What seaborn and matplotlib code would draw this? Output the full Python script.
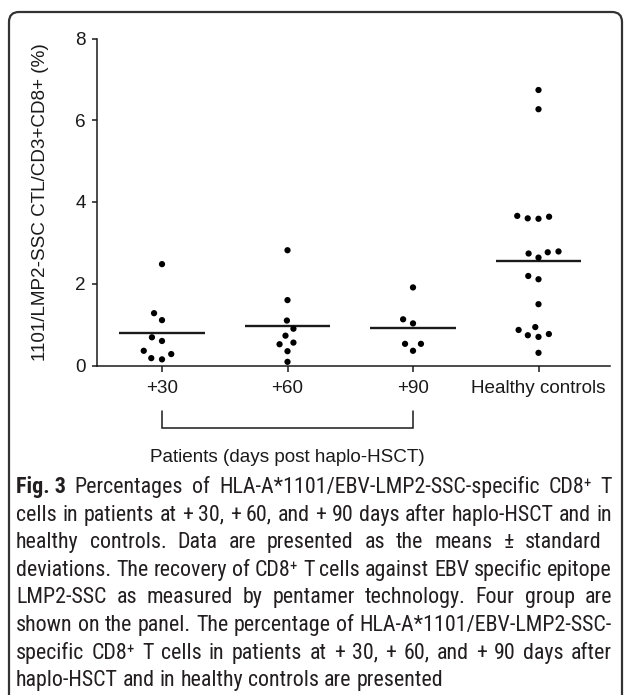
import numpy as np
import pandas as pd
import matplotlib
matplotlib.use("Agg")
import matplotlib.pyplot as plt
import seaborn as sns
from matplotlib import font_manager
from matplotlib.patches import FancyBboxPatch
from matplotlib.transforms import blended_transform_factory

# ---------------- data ----------------
groups = ["+30", "+60", "+90", "Healthy controls"]
day30 = [2.48, 1.28, 1.11, 0.69, 0.60, 0.36, 0.28, 0.15, 0.18]
day60 = [2.82, 1.60, 1.10, 0.90, 0.73, 0.56, 0.52, 0.35, 0.09]
day90 = [1.91, 1.13, 1.03, 0.53, 0.53, 0.36]
healthy = [6.74, 6.27, 3.64, 3.59, 3.60, 3.66, 2.79, 2.74, 2.64, 2.77,
           2.11, 2.19, 1.50, 0.87, 0.94, 0.74, 0.70, 0.77, 0.31]
yticks = [0, 2, 4, 6, 8]
ylabel = "1101/LMP2-SSC CTL/CD3+CD8+ (%)"
bracket_label = "Patients (days post haplo-HSCT)"
fig_tag = "Fig. 3"
caption_lines = [
    "Percentages of HLA-A*1101/EBV-LMP2-SSC-specific CD8\u207a T",
    "cells in patients at + 30, + 60, and + 90 days after haplo-HSCT and in",
    "healthy controls. Data are presented as the means \u00b1 standard",
    "deviations. The recovery of CD8\u207a T cells against EBV specific epitope",
    "LMP2-SSC as measured by pentamer technology. Four group are",
    "shown on the panel. The percentage of HLA-A*1101/EBV-LMP2-SSC-",
    "specific CD8\u207a T cells in patients at + 30, + 60, and + 90 days after",
    "haplo-HSCT and in healthy controls are presented",
]

df = pd.DataFrame({
    "group": [groups[0]] * len(day30) + [groups[1]] * len(day60)
             + [groups[2]] * len(day90) + [groups[3]] * len(healthy),
    "value": day30 + day60 + day90 + healthy,
})

# ---------------- layout (pixels) ----------------
W, H = 627, 695
AX_L, AX_R = 97, 610
AX_TOP, AX_BOT = 38.5, 365.5
CAT0_PX, CAT_STEP = 162, 125.5
INK = "#1a1a1a"
FS = 13.6

sns.set_theme(style="ticks")
plt.rcParams["font.family"] = ["Liberation Sans", "DejaVu Sans"]
plt.rcParams["text.color"] = INK

fig = plt.figure(figsize=(W / 100, H / 100), dpi=100)
fig.patch.set_facecolor("white")
ax = fig.add_axes([AX_L / W, 1 - AX_BOT / H, (AX_R - AX_L) / W, (AX_BOT - AX_TOP) / H])
ax.set_facecolor("white")

sns.swarmplot(data=df, x="group", y="value", order=groups, color="black",
              size=4.5, linewidth=2.9, edgecolor="none", ax=ax)
for c in ax.collections:
    c.set_clip_on(False)

means = df.groupby("group")["value"].mean().reindex(groups).values
xs = np.arange(len(groups))
ax.hlines(means, xs - 0.34, xs + 0.34, color=INK, lw=1.7)

x_left = -(CAT0_PX - AX_L) / CAT_STEP
x_right = (AX_R - CAT0_PX) / CAT_STEP
ax.set_xlim(x_left, x_right)
ax.set_ylim(0, 8)
ax.set_yticks(yticks)
ax.set_yticklabels([str(v) for v in yticks])
ax.set_xlabel("")
ax.set_ylabel("")
sns.despine(ax=ax)
for s in ["left", "bottom"]:
    ax.spines[s].set_linewidth(1.1)
    ax.spines[s].set_color(INK)
ax.tick_params(axis="y", length=3.6, width=1.1, pad=4.3, labelsize=FS, colors=INK)
ax.tick_params(axis="x", length=4.3, width=1.1, pad=6.0, labelsize=FS, colors=INK)

fig.text(41 / W, 1 - ((AX_TOP + AX_BOT) / 2) / H, ylabel, rotation=90,
         ha="center", va="center", fontsize=FS, color=INK)

# bracket under patient groups
btr = blended_transform_factory(ax.transData, fig.transFigure)
yb1, yb2 = 1 - 411 / H, 1 - 428 / H
ax.plot([0, 0, 2, 2], [yb1, yb2, yb2, yb1], transform=btr, color=INK, lw=1.1,
        clip_on=False, solid_joinstyle="miter")
ax.text(1, 1 - 458 / H, bracket_label, transform=btr, ha="center", va="center",
        fontsize=FS, color=INK)

# frame
frame = FancyBboxPatch((9, -30), 622 - 9, (H - 12) + 30,
                       boxstyle="round,pad=0,rounding_size=10",
                       transform=None, fill=False, lw=1.6, ec="#333333")
fig.patches.append(frame)

# ---------------- caption ----------------
names = {f.name for f in font_manager.fontManager.ttflist}
cap_family, cap_stretch = "Roboto", "normal"
for cand in ["Liberation Sans Narrow", "Roboto Condensed", "Open Sans Condensed",
             "Noto Sans Condensed"]:
    if cand in names:
        cap_family = cand
        break
else:
    for f in font_manager.fontManager.ttflist:
        if f.name in ("Noto Sans", "Open Sans") and "SemiCondensed" not in f.fname \
                and "Condensed" in f.fname and f.style == "normal" and f.weight in (400, "normal", "regular"):
            cap_family, cap_stretch = f.name, f.stretch
            break

renderer = fig.canvas.get_renderer()
cap_kw = dict(family=[cap_family, "DejaVu Sans"], stretch=cap_stretch, color="#231f20")

def width(txt, size, **kw):
    t = fig.text(0, 0, txt, fontsize=size, **{**cap_kw, **kw})
    w = t.get_window_extent(renderer).width
    t.remove()
    return w

CAP_L, CAP_R = 16, 612
tag_w10 = width(fig_tag + " ", 10, weight="bold")
nat = [width(l, 10) + (tag_w10 if i == 0 else 0) for i, l in enumerate(caption_lines)]
cap_size = min(10 * (CAP_R - CAP_L) / max(nat), 16)

base0, step = 493, 27.6
for i, line in enumerate(caption_lines):
    yb = 1 - (base0 + i * step) / H
    x0 = CAP_L
    tokens = line.split(" ")
    if i == 0:
        tw = width(fig_tag, cap_size, weight="bold")
        fig.text(x0 / W, yb, fig_tag, fontsize=cap_size, weight="bold", va="baseline", **cap_kw)
        x0 += tw
        tokens = [""] + tokens
    widths = [width(t, cap_size) if t else 0 for t in tokens]
    space = width("a a", cap_size) - width("aa", cap_size)
    if i < len(caption_lines) - 1:
        gap = (CAP_R - x0 - sum(widths)) / max(len(tokens) - 1, 1)
        gap = max(min(gap, space * 2.2), space * 0.8)
    else:
        gap = space
    x = x0
    for t, w in zip(tokens, widths):
        if t:
            fig.text(x / W, yb, t, fontsize=cap_size, va="baseline", **cap_kw)
        x += w + gap

fig.savefig("out.png", dpi=100, facecolor="white")
